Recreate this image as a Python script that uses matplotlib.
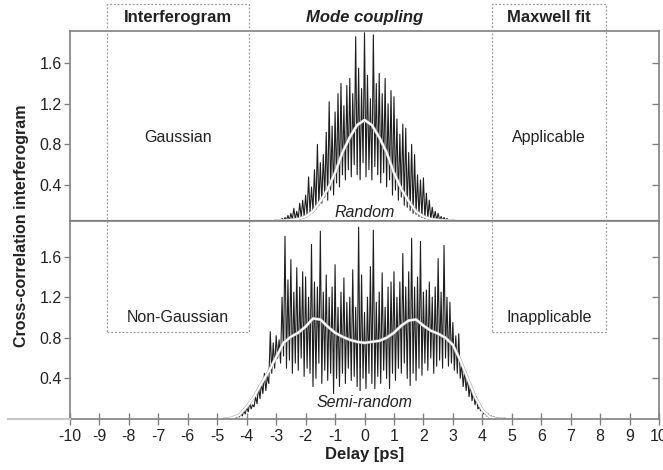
import numpy as np
import matplotlib
matplotlib.use("Agg")
import matplotlib.pyplot as plt
import matplotlib.patheffects as pe
from matplotlib.patches import Rectangle
from matplotlib.lines import Line2D
from matplotlib.transforms import blended_transform_factory

plt.rcParams["font.family"] = ["Liberation Sans", "DejaVu Sans"]

# --- data ---
delay_ticks = list(range(-10, 11))
y_ticks = [0.4, 0.8, 1.2, 1.6]

# Random coupling: fringe maxima (x = -3.0 .. 3.0, step 0.1) and minima (x = -2.95 .. 2.95)
rand_tops = [0.05, 0.06, 0.07, 0.08, 0.10, 0.12, 0.17, 0.14, 0.22, 0.25,
             0.30, 0.48, 0.38, 0.55, 0.80, 0.62, 0.70, 0.92, 1.22, 0.98,
             1.12, 1.30, 1.40, 1.18, 1.38, 1.45, 1.30, 1.86, 1.55, 1.35,
             1.90,
             1.48, 1.25, 1.88, 1.40, 1.50, 1.30, 1.45, 1.20, 1.33, 1.27,
             1.05, 0.90, 1.00, 0.96, 0.72, 0.80, 0.70, 0.50, 0.45, 0.47,
             0.32, 0.25, 0.18, 0.14, 0.12, 0.09, 0.08, 0.07, 0.06, 0.05]
rand_bots = [0.05, 0.05, 0.05, 0.05, 0.05, 0.06, 0.06, 0.07, 0.08, 0.09,
             0.10, 0.12, 0.14, 0.16, 0.20, 0.22, 0.28, 0.25, 0.35, 0.30,
             0.42, 0.38, 0.50, 0.45, 0.55, 0.48, 0.60, 0.50, 0.45, 0.62,
             0.48, 0.55, 0.45, 0.58, 0.50, 0.42, 0.52, 0.38, 0.45, 0.30,
             0.35, 0.25, 0.28, 0.20, 0.18, 0.15, 0.12, 0.11, 0.09, 0.08,
             0.07, 0.07, 0.06, 0.06, 0.05, 0.05, 0.05, 0.05, 0.05, 0.05]
# Random coupling: Gaussian envelope (x = -3 .. 3, step 0.25)
rand_env = [0.05, 0.05, 0.055, 0.065, 0.09, 0.14, 0.24, 0.36, 0.52, 0.72,
            0.87, 0.99, 1.04, 0.99, 0.87, 0.72, 0.52, 0.36, 0.24, 0.14,
            0.09, 0.065, 0.055, 0.05, 0.05]

# Semi-random coupling: fringe maxima (x = -4.6 .. 4.6, step 0.1) and minima (x = -4.55 .. 4.55)
semi_tops = [0.00, 0.01, 0.02, 0.04, 0.06, 0.08, 0.12, 0.16, 0.14, 0.22,
             0.32, 0.36, 0.45, 0.42, 0.86, 0.75, 0.82, 0.78, 1.20, 1.80,
             1.37, 1.57, 1.25, 1.49, 1.30, 1.45, 1.40, 1.20, 1.72, 1.35,
             1.30, 1.85, 1.25, 1.42, 1.20, 1.30, 1.52, 1.10, 1.25, 1.39,
             1.15, 1.20, 1.47, 1.10, 1.89, 1.42, 1.05, 1.20, 1.50, 1.86,
             1.15, 1.25, 1.44, 1.10, 1.30, 1.35, 1.45, 1.20, 1.35, 1.63,
             1.30, 1.45, 1.78, 1.30, 1.40, 1.75, 1.25, 1.27, 1.35, 1.20,
             1.30, 1.58, 1.25, 1.71, 1.20, 1.15, 0.95, 0.82, 0.84, 0.55,
             0.48, 0.42, 0.35, 0.28, 0.22, 0.12, 0.10, 0.07, 0.05, 0.03,
             0.02, 0.01, 0.00]
semi_bots = [0.00, 0.00, 0.01, 0.02, 0.03, 0.05, 0.07, 0.10, 0.12, 0.15,
             0.20, 0.25, 0.28, 0.35, 0.45, 0.50, 0.60, 0.55, 0.62, 0.50,
             0.58, 0.45, 0.55, 0.48, 0.60, 0.42, 0.50, 0.45, 0.32, 0.40,
             0.55, 0.35, 0.48, 0.38, 0.45, 0.25, 0.40, 0.32, 0.45, 0.35,
             0.50, 0.38, 0.42, 0.32, 0.28, 0.40, 0.30, 0.45, 0.35, 0.30,
             0.42, 0.35, 0.48, 0.40, 0.30, 0.45, 0.38, 0.50, 0.45, 0.55,
             0.40, 0.33, 0.45, 0.38, 0.50, 0.43, 0.55, 0.48, 0.60, 0.45,
             0.52, 0.58, 0.50, 0.60, 0.52, 0.55, 0.48, 0.45, 0.40, 0.32,
             0.28, 0.22, 0.18, 0.14, 0.10, 0.08, 0.05, 0.03, 0.02, 0.01,
             0.00, 0.00]
# Semi-random coupling: envelope (x = -4.75 .. 4.75, step 0.25)
semi_env = [0.00, 0.01, 0.04, 0.12, 0.22, 0.35, 0.47, 0.61, 0.75, 0.81,
            0.85, 0.91, 0.99, 0.98, 0.91, 0.85, 0.81, 0.78, 0.76, 0.75,
            0.76, 0.77, 0.80, 0.85, 0.92, 0.97, 0.98, 0.92, 0.87, 0.84,
            0.80, 0.73, 0.58, 0.40, 0.22, 0.09, 0.02, 0.00, 0.00]


def fringe(tops, bots, x_top0, x_bot0, step=0.1):
    """Ghep cac dinh / day xen ke theo delay."""
    xt = x_top0 + step * np.arange(len(tops))
    xb = x_bot0 + step * np.arange(len(bots))
    x = np.concatenate([xt, xb])
    y = np.concatenate([tops, bots])
    order = np.argsort(x)
    return x[order], y[order]


GRAY = "#808080"
TXT = "#222222"

fig = plt.figure(figsize=(6.63, 4.70), dpi=100)
ax_top = fig.add_axes([0.1056, 0.5304, 0.8884, 0.4043])
ax_bot = fig.add_axes([0.1056, 0.1085, 0.8884, 0.4219])

# top panel: random
x, y = fringe(rand_tops, rand_bots, -3.0, -2.95)
ax_top.plot(np.r_[-10, x, 10], np.r_[0.05, y, 0.05], color="#1e1e1e", lw=0.8)
xe = -3.0 + 0.25 * np.arange(len(rand_env))
ax_top.plot(xe, rand_env, color="white", lw=1.4,
            path_effects=[pe.Stroke(linewidth=2.2, foreground="#aaaaaa"), pe.Normal()])
ax_top.set_ylim(0.048, 1.92)

# bottom panel: semi-random
x, y = fringe(semi_tops, semi_bots, -4.6, -4.55)
ax_bot.plot(x, y, color="#1e1e1e", lw=0.8)
xe = -4.75 + 0.25 * np.arange(len(semi_env))
ax_bot.plot(xe, semi_env, color="white", lw=1.4,
            path_effects=[pe.Stroke(linewidth=2.2, foreground="#aaaaaa"), pe.Normal()])
ax_bot.set_ylim(0, 1.953)

for ax in (ax_top, ax_bot):
    ax.set_xlim(-10, 10)
    ax.set_yticks(y_ticks)
    ax.set_yticklabels([f"{v:.1f}" for v in y_ticks])
    for s in ax.spines.values():
        s.set_color(GRAY)
        s.set_linewidth(1.2)
    ax.tick_params(axis="y", which="both", direction="out", length=4, width=1,
                   color=GRAY, labelsize=11.5, labelcolor=TXT, pad=2)
    # ticks phia phai huong vao trong
    ax.tick_params(axis="y", right=True, labelright=False)

for ax in (ax_top, ax_bot):
    for t in ax.yaxis.get_major_ticks():
        t.tick2line.set_marker(matplotlib.lines.TICKLEFT)
        t.tick2line.set_markersize(5)

ax_top.set_xticks([])
ax_bot.set_xticks(delay_ticks)
ax_bot.set_xticklabels([str(v) for v in delay_ticks])
ax_bot.tick_params(axis="x", direction="inout", length=8, width=1, color=GRAY,
                   labelsize=11.5, labelcolor=TXT, pad=3)
ax_bot.set_xlabel("Delay [ps]", fontsize=12, fontweight="bold", color=TXT, labelpad=2)
fig.text(0.033, 0.52, "Cross-correlation interferogram", rotation=90, ha="center",
         va="center", fontsize=11.5, fontweight="bold", color=TXT)

# gray line left of the axis
fig.add_artist(Line2D([8 / 663, 70 / 663], [51 / 470, 51 / 470], color="#c8c8c8", lw=1.5))

# dotted boxes and headers
tr = blended_transform_factory(ax_bot.transData, fig.transFigure)
for x0, x1 in [(-8.74, -3.92), (4.34, 8.19)]:
    fig.add_artist(Rectangle((x0, 0.294), x1 - x0, 0.9915 - 0.294, transform=tr,
                             fill=False, ls=(0, (1.5, 1.5)), lw=0.9, ec="#9a9a9a"))
fig.text(-6.33, 0.962, "Interferogram", transform=tr, ha="center", va="center",
         fontsize=12, fontweight="bold", color=TXT)
fig.text(0.0, 0.962, "Mode coupling", transform=tr, ha="center", va="center",
         fontsize=12, fontweight="bold", fontstyle="italic", color=TXT)
fig.text(6.27, 0.962, "Maxwell fit", transform=tr, ha="center", va="center",
         fontsize=12, fontweight="bold", color=TXT)

ax_top.text(-6.33, 0.87, "Gaussian", ha="center", va="center", fontsize=11.5, color=TXT)
ax_top.text(6.27, 0.87, "Applicable", ha="center", va="center", fontsize=11.5, color=TXT)
ax_top.text(0, 0.13, "Random", ha="center", va="center", fontsize=11.5,
            fontstyle="italic", color=TXT)
ax_bot.text(-6.33, 1.0, "Non-Gaussian", ha="center", va="center", fontsize=11.5, color=TXT)
ax_bot.text(6.27, 1.0, "Inapplicable", ha="center", va="center", fontsize=11.5, color=TXT)
ax_bot.text(0, 0.16, "Semi-random", ha="center", va="center", fontsize=11.5,
            fontstyle="italic", color=TXT)

fig.savefig("out.png", dpi=100)
